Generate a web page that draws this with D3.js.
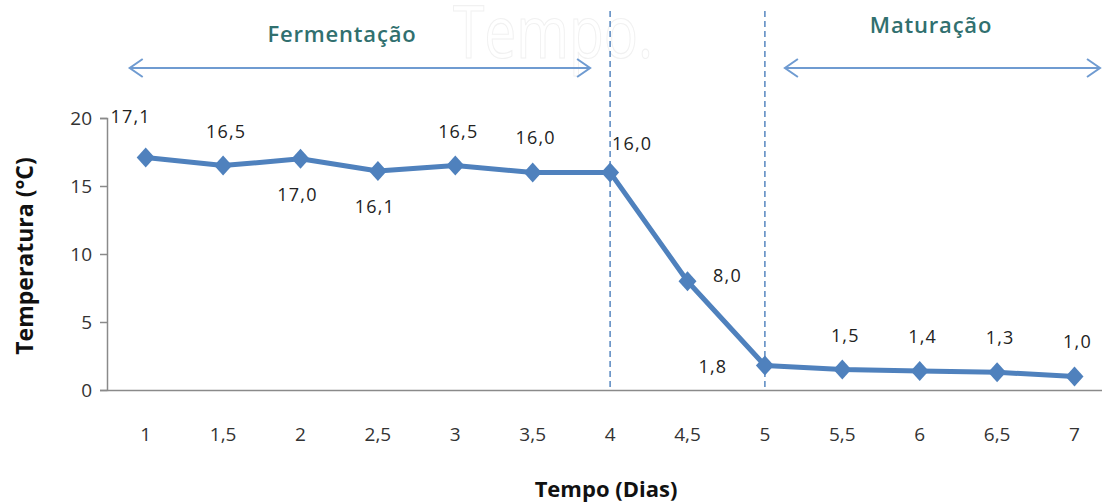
<!DOCTYPE html>
<html>
<head>
<meta charset="utf-8">
<script src="https://cdn.jsdelivr.net/npm/d3@7"></script>
<style>
body { margin:0; background:#fff; }
text { font-family: "Open Sans", sans-serif; }
</style>
</head>
<body>
<svg id="chart" width="1102" height="504"></svg>
<script>
// categories (days) and temperatures
var dias = ["1","1,5","2","2,5","3","3,5","4","4,5","5","5,5","6","6,5","7"]
var temps = [17.1, 16.5, 17.0, 16.1, 16.5, 16.0, 16.0, 8.0, 1.8, 1.5, 1.4, 1.3, 1.0]
var labelPos = ["topleft","above","below","below","above","above","aboveright","right","left","above","above","above","above"]
var yTicks = [0, 5, 10, 15, 20]
var phases = ["Fermentação", "Maturação"]
var dividers = ["4", "5"]

var svg = d3.select("#chart")

var plotLeft = 107, plotBottom = 390, plotTop = 118
var step = 77.4
var x = d3.scaleBand()
  .domain(dias)
  .range([plotLeft, plotLeft + step * dias.length])
var y = d3.scaleLinear()
  .domain([0, 20])
  .range([plotBottom, plotTop])

var cx = function(d){ return x(d) + x.bandwidth() / 2 }

// faint watermark
svg.append("text")
  .attr("x", 453).attr("y", 58)
  .attr("font-size", 74)
  .attr("textLength", 200)
  .attr("lengthAdjust", "spacingAndGlyphs")
  .attr("fill", "none")
  .attr("stroke", "#f1f1f1")
  .attr("stroke-width", 1.2)
  .text("Tempo.")

// y axis
var yAxis = svg.append("g")
  .attr("transform", "translate(" + plotLeft + ",0)")
  .call(d3.axisLeft(y).tickValues(yTicks).tickSize(7).tickPadding(8).tickFormat(d3.format("d")))
yAxis.select(".domain").attr("stroke", "#8a8a8a").attr("stroke-width", 1.5)
yAxis.selectAll(".tick line").attr("stroke", "#8a8a8a").attr("stroke-width", 1.5)
yAxis.selectAll(".tick text").attr("font-size", 19).attr("fill", "#333").attr("font-family", "'Open Sans', sans-serif")

// x axis
var xAxis = svg.append("g")
  .attr("transform", "translate(0," + plotBottom + ")")
  .call(d3.axisBottom(x).tickSize(0).tickPadding(38))
xAxis.select(".domain").attr("stroke", "#8a8a8a").attr("stroke-width", 1.5)
xAxis.selectAll(".tick text").attr("font-size", 19).attr("fill", "#333").attr("font-family", "'Open Sans', sans-serif")

// dividers between phases
svg.selectAll(".divider")
  .data(dividers)
  .join("line")
  .attr("class", "divider")
  .attr("x1", cx).attr("x2", cx)
  .attr("y1", 11).attr("y2", plotBottom)
  .attr("stroke", "#4a7ebb")
  .attr("stroke-width", 1.4)
  .attr("stroke-dasharray", "6,4")

// phase arrows
var arrowColor = "#6f9bd1"
var arrows = [
  {x1: cx("1") - 16, x2: cx("4") - 20, tx: 342, ty: 42},
  {x1: cx("5") + 20, x2: 1100, tx: 931, ty: 33}
]
phases.forEach(function(name, i)
{
  var a = arrows[i], ay = 68
  var g = svg.append("g")
  g.append("line")
    .attr("x1", a.x1).attr("x2", a.x2).attr("y1", ay).attr("y2", ay)
    .attr("stroke", arrowColor).attr("stroke-width", 2)
  g.append("path")
    .attr("d", "M" + (a.x1 + 13) + "," + (ay - 9) + "L" + a.x1 + "," + ay + "L" + (a.x1 + 13) + "," + (ay + 9))
    .attr("fill", "none").attr("stroke", arrowColor).attr("stroke-width", 2)
  g.append("path")
    .attr("d", "M" + (a.x2 - 13) + "," + (ay - 9) + "L" + a.x2 + "," + ay + "L" + (a.x2 - 13) + "," + (ay + 9))
    .attr("fill", "none").attr("stroke", arrowColor).attr("stroke-width", 2)
  g.append("text")
    .attr("x", a.tx)
    .attr("y", a.ty)
    .attr("text-anchor", "middle")
    .attr("font-size", 22)
    .attr("font-weight", 600)
    .attr("letter-spacing", 0.8)
    .attr("fill", "#31706f")
    .text(name)
})

// line
var line = d3.line()
  .x(function(d, i){ return cx(dias[i]) })
  .y(function(d){ return y(d) })

svg.append("path")
  .datum(temps)
  .attr("d", line)
  .attr("fill", "none")
  .attr("stroke", "#4f81bd")
  .attr("stroke-width", 5)
  .attr("stroke-linejoin", "round")

svg.selectAll(".marker")
  .data(temps)
  .join("path")
  .attr("class", "marker")
  .attr("d", "M0,-10L9,0L0,10L-9,0Z")
  .attr("transform", function(d, i){ return "translate(" + cx(dias[i]) + "," + y(d) + ")" })
  .attr("fill", "#4f81bd")

// data labels
var fmt = function(v){ return v.toFixed(1).replace(".", ",") }
var offsets = {
  topleft: [-15, -34],
  above: [3, -28],
  below: [-3, 42],
  aboveright: [22, -22],
  right: [40, 1],
  left: [-52, 7]
}
svg.selectAll(".dlabel")
  .data(temps)
  .join("text")
  .attr("class", "dlabel")
  .attr("x", function(d, i){ return cx(dias[i]) + offsets[labelPos[i]][0] })
  .attr("y", function(d, i){ return y(d) + offsets[labelPos[i]][1] })
  .attr("text-anchor", "middle")
  .attr("font-size", 18)
  .attr("letter-spacing", 1.2)
  .attr("fill", "#222")
  .text(fmt)

// axis titles
svg.append("text")
  .attr("transform", "translate(33,256) rotate(-90)")
  .attr("text-anchor", "middle")
  .attr("font-size", 23)
  .attr("font-weight", "bold")
  .attr("fill", "#111")
  .text("Temperatura (°C)")

svg.append("text")
  .attr("x", 606).attr("y", 497)
  .attr("text-anchor", "middle")
  .attr("font-size", 22)
  .attr("font-weight", "bold")
  .attr("fill", "#111")
  .text("Tempo (Dias)")
</script>
</body>
</html>
